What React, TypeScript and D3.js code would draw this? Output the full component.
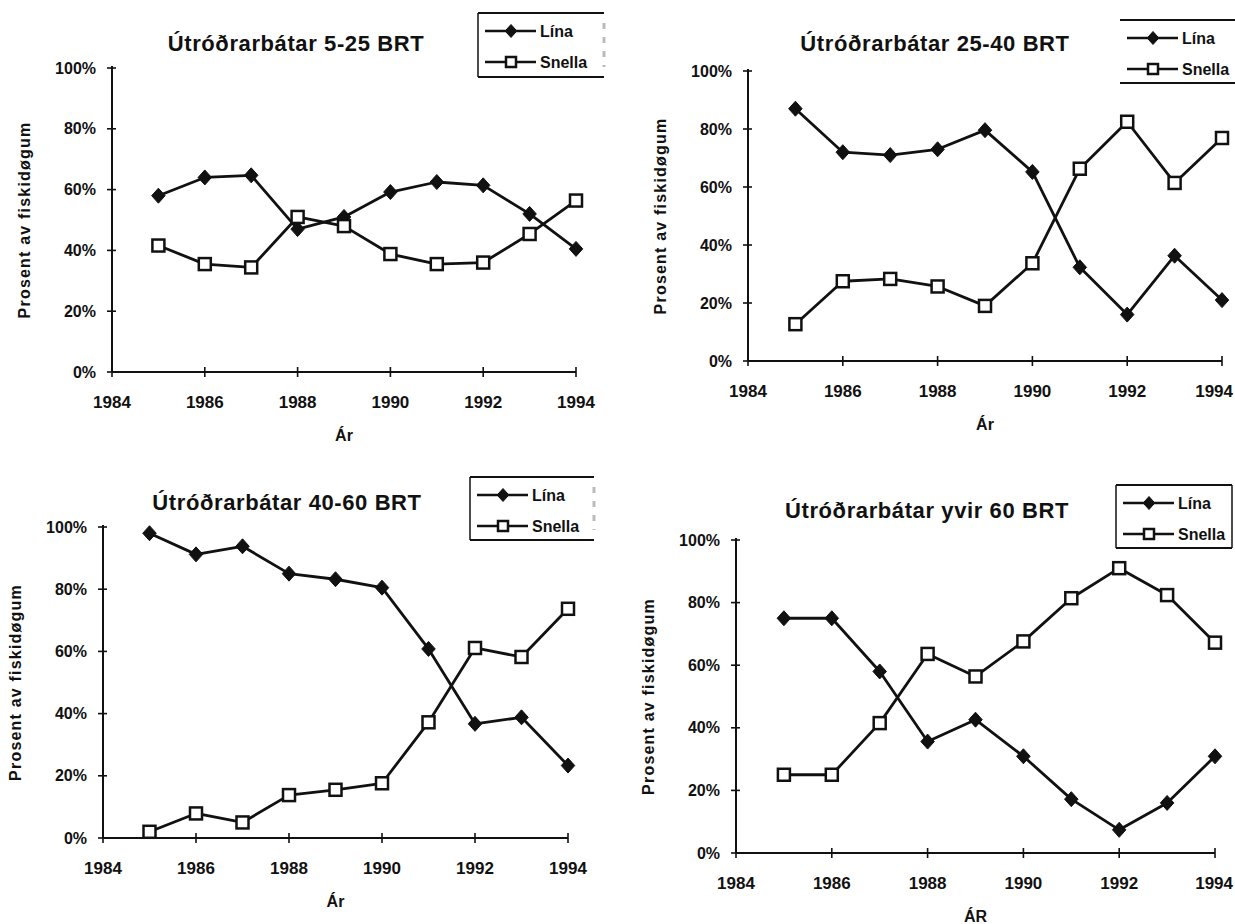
import React from 'react';
import * as d3 from 'd3';

// ---------- DATA ----------
const years = [1985, 1986, 1987, 1988, 1989, 1990, 1991, 1992, 1993, 1994];
const xTickValues = [1984, 1986, 1988, 1990, 1992, 1994];
const yTickValues = [0, 20, 40, 60, 80, 100];
const seriesNames = ['Lína', 'Snella'];
const panelTitles = [
  'Útróðrarbátar 5-25 BRT',
  'Útróðrarbátar 25-40 BRT',
  'Útróðrarbátar 40-60 BRT',
  'Útróðrarbátar yvir 60 BRT',
];
const xAxisTitles = ['Ár', 'Ár', 'Ár', 'ÁR'];
const yAxisTitle = 'Prosent av fiskidøgum';

const lina5to25 = [58, 64, 64.7, 47, 51, 59.2, 62.5, 61.4, 52, 40.5];
const snella5to25 = [41.6, 35.5, 34.4, 51, 48, 38.8, 35.5, 36, 45.4, 56.4];

const lina25to40 = [87, 72, 71, 73, 79.6, 65.2, 32.3, 16, 36.3, 21];
const snella25to40 = [12.7, 27.5, 28.3, 25.7, 19, 33.7, 66.3, 82.5, 61.4, 76.9];

const lina40to60 = [98, 91.2, 93.8, 85, 83.2, 80.5, 60.8, 36.7, 38.8, 23.3];
const snella40to60 = [2, 7.9, 5, 13.8, 15.5, 17.6, 37.2, 61.1, 58.2, 73.7];

const linaOver60 = [75, 75, 58, 35.6, 42.6, 30.9, 17.2, 7.4, 16, 30.9];
const snellaOver60 = [25, 25, 41.5, 63.6, 56.4, 67.6, 81.4, 91, 82.4, 67.2];

const panelSeries = [
  [lina5to25, snella5to25],
  [lina25to40, snella25to40],
  [lina40to60, snella40to60],
  [linaOver60, snellaOver60],
];

// ---------- LAYOUT ----------
const W = 1235;
const H = 924;
const layout = [
  { x0: 112, x1: 576, yb: 372, yt: 68, tx: 296, ty: 43, lg: { x: 478, y: 13, w: 126, h: 64, left: true, right: 'faint' } },
  { x0: 748, x1: 1222, yb: 361, yt: 71, tx: 935, ty: 43, lg: { x: 1120, y: 20, w: 130, h: 63, left: false, right: 'none' } },
  { x0: 103, x1: 568, yb: 838, yt: 527, tx: 287, ty: 502, lg: { x: 470, y: 477, w: 124, h: 63, left: true, right: 'faint' } },
  { x0: 736, x1: 1215, yb: 853, yt: 540, tx: 927, ty: 510, lg: { x: 1116, y: 485, w: 116, h: 63, left: true, right: 'solid' } },
];

const FONT = '"Liberation Sans", Arial, Helvetica, sans-serif';
const INK = '#111';

function Diamond({ x, y, r = 7.5 }: { x: number; y: number; r?: number }) {
  return (
    <path
      d={`M${x},${y - r}L${x + r * 0.9},${y}L${x},${y + r}L${x - r * 0.9},${y}Z`}
      fill={INK}
      stroke={INK}
      strokeWidth={1}
    />
  );
}

function Square({ x, y, s = 12 }: { x: number; y: number; s?: number }) {
  return (
    <rect x={x - s / 2} y={y - s / 2} width={s} height={s} fill="#fff" stroke={INK} strokeWidth={2.5} />
  );
}

function Panel({ idx }: { idx: number }) {
  const L = layout[idx];
  const x = d3.scaleLinear().domain([1984, 1994]).range([L.x0, L.x1]);
  const y = d3.scaleLinear().domain([0, 100]).range([L.yb, L.yt]);
  const line = d3
    .line<number>()
    .x((_, i) => x(years[i]))
    .y((d) => y(d));
  const [lina, snella] = panelSeries[idx];
  const cx = (L.x0 + L.x1) / 2;
  const cy = (L.yb + L.yt) / 2;
  const lg = L.lg;
  const rowY = [lg.y + 18, lg.y + 49];
  return (
    <g>
      {/* title */}
      <text
        x={L.tx}
        y={L.ty}
        textAnchor="middle"
        dominantBaseline="central"
        fontFamily={FONT}
        fontWeight="bold"
        fontSize={22}
        letterSpacing={0.6}
        fill={INK}
      >
        {panelTitles[idx]}
      </text>

      {/* axes */}
      <line x1={L.x0} x2={L.x0} y1={L.yt - 2} y2={L.yb} stroke={INK} strokeWidth={2} />
      <line x1={L.x0} x2={L.x1} y1={L.yb} y2={L.yb} stroke={INK} strokeWidth={2} />
      {yTickValues.map((v) => (
        <g key={'y' + v}>
          <line x1={L.x0 - 5} x2={L.x0 + 4} y1={y(v)} y2={y(v)} stroke={INK} strokeWidth={1.6} />
          <text
            x={L.x0 - 16}
            y={y(v)}
            textAnchor="end"
            dominantBaseline="central"
            fontFamily={FONT}
            fontWeight="bold"
            fontSize={16}
            fill={INK}
          >
            {d3.format('.0%')(v / 100)}
          </text>
        </g>
      ))}
      {xTickValues.map((v) => {
        const overflow = x(v) + 20 > W - 2;
        return (
          <g key={'x' + v}>
            <line x1={x(v)} x2={x(v)} y1={L.yb - 5} y2={L.yb + 5} stroke={INK} strokeWidth={1.6} />
            <text
              x={overflow ? W - 2 : x(v)}
              y={L.yb + 30}
              textAnchor={overflow ? 'end' : 'middle'}
              dominantBaseline="central"
              fontFamily={FONT}
              fontWeight="bold"
              fontSize={17}
              fill={INK}
            >
              {v}
            </text>
          </g>
        );
      })}
      <text
        x={cx}
        y={L.yb + 63}
        textAnchor="middle"
        dominantBaseline="central"
        fontFamily={FONT}
        fontWeight="bold"
        fontSize={16}
        fill={INK}
      >
        {xAxisTitles[idx]}
      </text>
      <text
        transform={`translate(${L.x0 - 88},${cy}) rotate(-90)`}
        textAnchor="middle"
        dominantBaseline="central"
        fontFamily={FONT}
        fontWeight="bold"
        fontSize={16}
        letterSpacing={1.2}
        fill={INK}
      >
        {yAxisTitle}
      </text>

      {/* series */}
      <path d={line(lina) || ''} fill="none" stroke={INK} strokeWidth={2.8} strokeLinejoin="round" />
      <path d={line(snella) || ''} fill="none" stroke={INK} strokeWidth={2.8} strokeLinejoin="round" />
      {lina.map((v, i) => (
        <Diamond key={'d' + i} x={x(years[i])} y={y(v)} />
      ))}
      {snella.map((v, i) => (
        <Square key={'s' + i} x={x(years[i])} y={y(v)} />
      ))}

      {/* legend */}
      <g>
        <line x1={lg.x} x2={Math.min(lg.x + lg.w, W)} y1={lg.y} y2={lg.y} stroke={INK} strokeWidth={2} />
        <line x1={lg.x} x2={Math.min(lg.x + lg.w, W)} y1={lg.y + lg.h} y2={lg.y + lg.h} stroke={INK} strokeWidth={2} />
        {lg.left && <line x1={lg.x} x2={lg.x} y1={lg.y} y2={lg.y + lg.h} stroke={INK} strokeWidth={1.5} />}
        {lg.right === 'solid' && (
          <line x1={lg.x + lg.w} x2={lg.x + lg.w} y1={lg.y} y2={lg.y + lg.h} stroke={INK} strokeWidth={1.5} />
        )}
        {lg.right === 'faint' && (
          <line x1={lg.x + lg.w} x2={lg.x + lg.w} y1={lg.y + 10} y2={lg.y + lg.h - 10} stroke="#bbb" strokeWidth={3} strokeDasharray="6 8" />
        )}
        {seriesNames.map((name, i) => (
          <g key={name}>
            <line x1={lg.x + 7} x2={lg.x + 58} y1={rowY[i]} y2={rowY[i]} stroke={INK} strokeWidth={2.6} />
            {i === 0 ? <Diamond x={lg.x + 33} y={rowY[i]} r={6.5} /> : <Square x={lg.x + 33} y={rowY[i]} s={10} />}
            <text
              x={lg.x + 62}
              y={rowY[i]}
              dominantBaseline="central"
              fontFamily={FONT}
              fontWeight="bold"
              fontSize={16}
              fill={INK}
            >
              {name}
            </text>
          </g>
        ))}
      </g>
    </g>
  );
}

export default function App() {
  return (
    <svg
      width={W}
      height={H}
      viewBox={`0 0 ${W} ${H}`}
      style={{ position: 'absolute', left: 0, top: 0, background: '#fff' }}
    >
      <rect x={0} y={0} width={W} height={H} fill="#fff" />
      {layout.map((_, i) => (
        <Panel key={i} idx={i} />
      ))}
    </svg>
  );
}
